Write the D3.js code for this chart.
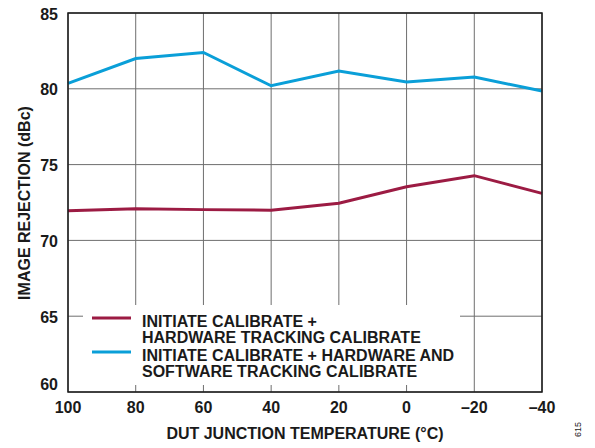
<!DOCTYPE html>
<html><head><meta charset="utf-8">
<script src="https://cdn.jsdelivr.net/npm/d3@7"></script>
<style>body{margin:0;background:#fff}svg{display:block}text{font-family:"Liberation Sans",Arial,sans-serif;font-weight:bold;fill:#1a1a1a}</style>
</head><body><svg id="c" width="595" height="448"></svg>
<script>
const temps = [100, 80, 60, 40, 20, 0, -20, -40];
const tickLabels = ["100","80","60","40","20","0","\u201320","\u201340"];
const hwTrack = [71.96, 72.09, 72.03, 71.99, 72.45, 73.54, 74.27, 73.1];
const hwSwTrack = [80.36, 82.0, 82.4, 80.2, 81.17, 80.45, 80.78, 79.85];
const yTicks = [60, 65, 70, 75, 80, 85];
const seriesNames = [["INITIATE CALIBRATE +","HARDWARE TRACKING CALIBRATE"],["INITIATE CALIBRATE + HARDWARE AND","SOFTWARE TRACKING CALIBRATE"]];
const colors = ["#9c1b43","#0a9fd8"];

const svg = d3.select("#c");
const L=68,R=542,T=13,B=392;
const x = d3.scaleLinear().domain([100,-40]).range([L,R]);
const y = d3.scaleLinear().domain([60,85]).range([B,T]);

// grid
const g = svg.append("g");
g.selectAll("line.v").data(temps).join("line").attr("x1",d=>x(d)).attr("x2",d=>x(d)).attr("y1",T).attr("y2",B).attr("stroke","#6e6e6e").attr("stroke-width",1);
g.selectAll("line.h").data(yTicks).join("line").attr("x1",L).attr("x2",R).attr("y1",d=>y(d)).attr("y2",d=>y(d)).attr("stroke","#6e6e6e").attr("stroke-width",1);

// legend background
svg.append("rect").attr("x",83).attr("y",305).attr("width",377).attr("height",80).attr("fill","#fff");

// lines
const line = d3.line().x((d,i)=>x(temps[i])).y(d=>y(d));
[hwTrack, hwSwTrack].forEach((s,k)=>{
  svg.append("path").datum(s).attr("d",line).attr("fill","none").attr("stroke",colors[k]).attr("stroke-width",3).attr("stroke-linejoin","miter");
});

// frame
svg.append("rect").attr("x",L).attr("y",T).attr("width",R-L).attr("height",B-T).attr("fill","none").attr("stroke","#1a1a1a").attr("stroke-width",1.5);

// tick labels
svg.selectAll("text.xt").data(temps).join("text").attr("x",d=>x(d)).attr("y",413).attr("text-anchor","middle").attr("font-size",16).text((d,i)=>tickLabels[i]);
svg.selectAll("text.yt").data(yTicks).join("text").attr("x",58).attr("y",d=>d===60?390:y(d)+6.5).attr("text-anchor","end").attr("font-size",16).text(d=>d);

// axis titles
svg.append("text").attr("x",305).attr("y",439).attr("text-anchor","middle").attr("font-size",16).text("DUT JUNCTION TEMPERATURE (\u00B0C)");
svg.append("text").attr("transform","translate(30,203) rotate(-90)").attr("text-anchor","middle").attr("font-size",16).text("IMAGE REJECTION (dBc)");

// legend
const ly=[318,352];
seriesNames.forEach((nm,k)=>{
  svg.append("line").attr("x1",92).attr("x2",131).attr("y1",ly[k]).attr("y2",ly[k]).attr("stroke",colors[k]).attr("stroke-width",3);
  nm.forEach((t,j)=>{
    svg.append("text").attr("x",142).attr("y",ly[k]+8.8+j*16.3).attr("font-size",16).text(t);
  });
});

svg.append("text").attr("transform","translate(581,437) rotate(-90)").attr("font-size",9).style("font-weight","normal").attr("fill","#333").text("615");
</script></body></html>
